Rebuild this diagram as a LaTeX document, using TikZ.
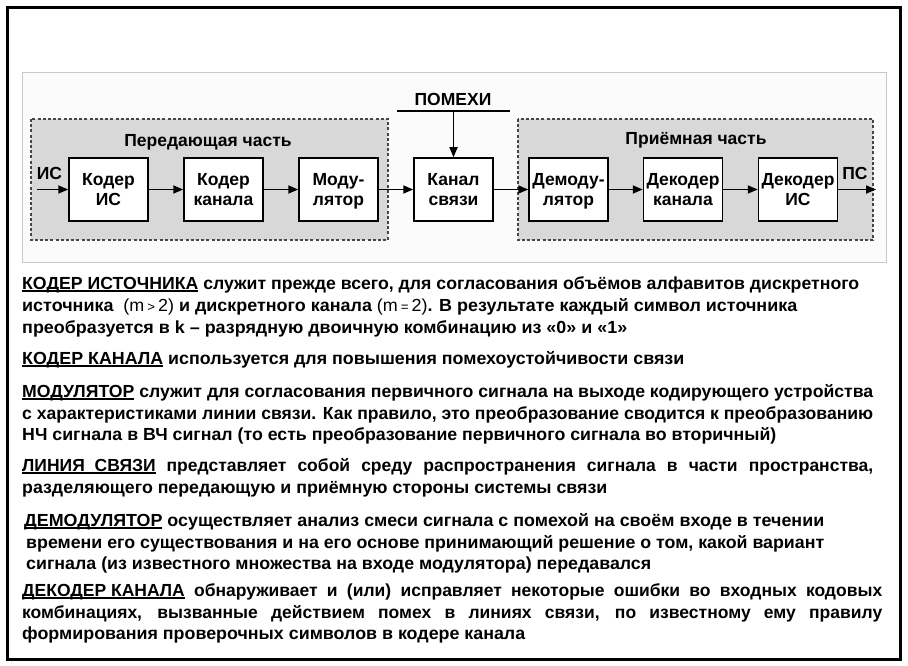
\documentclass[tikz,border=0pt]{standalone}
\usepackage{fontspec}
\setmainfont{Liberation Sans}
\usepackage{graphicx}
\usetikzlibrary{arrows.meta}
\definecolor{grpfill}{RGB}{216,216,216}
\definecolor{grpline}{RGB}{70,70,70}
\definecolor{panelfill}{RGB}{251,251,251}
\definecolor{panelline}{RGB}{200,200,200}
\newsavebox\ulbox
\newcommand\uln[1]{\sbox\ulbox{#1}\rlap{\rule[-2.5pt]{\wd\ulbox}{1.2pt}}\usebox\ulbox}
\newcommand\fitw[2]{\resizebox{#1}{\height}{#2}}
\newcommand\jline[2]{\hbox to #1{\spaceskip=0.28em plus 3em\relax #2}}
\newcommand\tst{\rule{0pt}{16pt}}
\newcommand\bst{\rule[-4pt]{0pt}{4pt}}
\newcommand\smsym[1]{{\fontsize{13}{13}\selectfont #1}}
\begin{document}
\begin{tikzpicture}[x=1pt,y=-1pt,
  blk/.style={draw=black, fill=white, line width=1.5pt, minimum width=79pt, minimum height=63pt, inner sep=0pt, align=center, font=\fontsize{17.5}{20.5}\selectfont\bfseries},
  arr/.style={line width=1.7pt, -{Triangle[length=10pt,width=8pt]}},
  grp/.style={fill=grpfill, draw=grpline, line width=1.8pt, dash pattern=on 3pt off 2.2pt},
  para/.style={inner sep=0pt, anchor=base west, font=\fontsize{17.5}{21}\selectfont\bfseries},
  lbl/.style={inner sep=0pt, anchor=base, font=\fontsize{17.5}{20}\selectfont\bfseries}]
\useasboundingbox (0,0) rectangle (908,666);
\fill[white] (0,0) rectangle (908,666);
\draw[line width=3pt] (7.5,7.5) rectangle (900,659.5);
\draw[panelline, fill=panelfill, line width=1pt] (22,73) rectangle (886,262);
\draw[grp] (31,119) rectangle (388,240);
\draw[grp] (518,119) rectangle (873,240);
\node[lbl] (tx) at (208,147) {Передающая часть};
\node[lbl] (rx) at (696,145) {Приёмная часть};
% blocks
\node[blk] (kis) at (108.5,189.5) {\tst Кодер\\ИС\bst};
\node[blk] (kk)  at (223.5,189.5) {\tst Кодер\\канала\bst};
\node[blk] (mod) at (338.5,189.5) {\tst Моду-\\лятор\bst};
\node[blk] (kan) at (453.5,189.5) {\tst Канал\\связи\bst};
\node[blk] (dem) at (568.5,189.5) {\tst Демоду-\\лятор\bst};
\node[blk] (dk)  at (683,189.5) {\tst Декодер\\канала\bst};
\node[blk] (dis) at (798,189.5) {\tst Декодер\\ИС\bst};
\coordinate (in) at (37,189.5);
\coordinate (out) at (876,189.5);
\draw[arr] (in) -- (kis);
\draw[arr] (kis) -- (kk);
\draw[arr] (kk) -- (mod);
\draw[arr] (mod) -- (kan);
\draw[arr] (kan) -- (dem);
\draw[arr] (dem) -- (dk);
\draw[arr] (dk) -- (dis);
\draw[arr] (dis) -- (out);
\node[lbl] (is) at (49.5,179) {ИС};
\node[lbl] (ps) at (855,179) {ПС};
\node[lbl] (pom) at (453,106) {ПОМЕХИ};
\coordinate (pl) at (397,111);
\coordinate (pr) at (510,111);
\coordinate (pm) at (453.5,111);
\draw[line width=1.5pt] (pl) -- (pr);
\draw[arr] (pm) -- (kan);
% paragraphs
\node[para] (p1a) at (22,289) {\fitw{837pt}{\uln{КОДЕР ИСТОЧНИКА} служит прежде всего, для согласования объёмов алфавитов дискретного}};
\node[para] (p1b) at (22,311) {\fitw{775pt}{источника \ {\mdseries(m\,\smsym{>}\,2)} и дискретного канала {\mdseries(m\,\smsym{=}\,2)}. В результате каждый символ источника}};
\node[para] (p1c) at (22,333) {\fitw{605pt}{преобразуется в k – разрядную двоичную комбинацию из «0» и «1»}};
\node[para] (p2)  at (22,364) {\fitw{662pt}{\uln{КОДЕР КАНАЛА} используется для повышения помехоустойчивости связи}};
\node[para] (p3a) at (22,397) {\fitw{851pt}{\uln{МОДУЛЯТОР} служит для согласования первичного сигнала на выходе кодирующего устройства}};
\node[para] (p3b) at (22,419) {\fitw{851pt}{с характеристиками линии связи. Как правило, это преобразование сводится к преобразованию}};
\node[para] (p3c) at (22,440) {\fitw{754pt}{НЧ сигнала в ВЧ сигнал (то есть преобразование первичного сигнала во вторичный)}};
\node[para] (p4a) at (22,471) {\jline{851pt}{\uln{ЛИНИЯ\ \ СВЯЗИ} представляет собой среду распространения сигнала в части пространства,}};
\node[para] (p4b) at (22,493) {\fitw{585pt}{разделяющего передающую и приёмную стороны системы связи}};
\node[para] (p5a) at (24,526) {\fitw{800pt}{\uln{ДЕМОДУЛЯТОР} осуществляет анализ смеси сигнала с помехой на своём входе в течении}};
\node[para] (p5b) at (26,548) {\fitw{798pt}{времени его существования и на его основе принимающий решение о том, какой вариант}};
\node[para] (p5c) at (26,569) {\fitw{625pt}{сигнала (из известного множества на входе модулятора) передавался}};
\node[para] (p6a) at (22,596) {\jline{860pt}{\uln{ДЕКОДЕР КАНАЛА} обнаруживает и (или) исправляет некоторые ошибки во входных кодовых}};
\node[para] (p6b) at (22,618) {\jline{860pt}{комбинациях, вызванные действием помех в линиях связи, по известному ему правилу}};
\node[para] (p6c) at (22,639) {\fitw{503pt}{формирования проверочных символов в кодере канала}};
\end{tikzpicture}
\end{document}
